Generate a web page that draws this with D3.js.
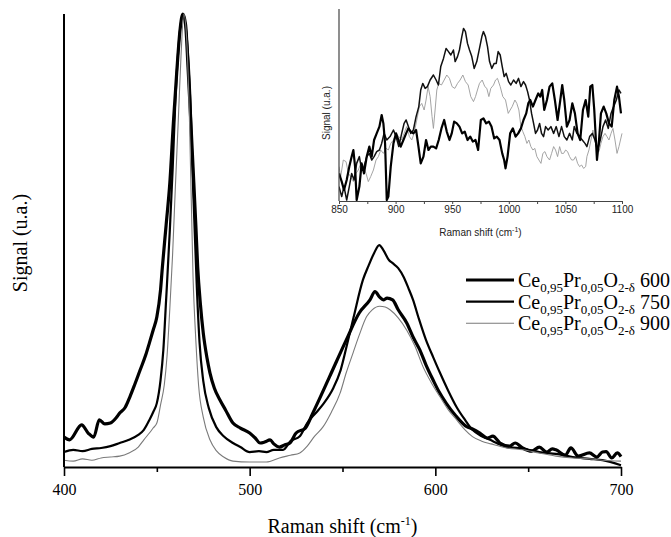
<!DOCTYPE html>
<html>
<head>
<meta charset="utf-8">
<script src="https://cdn.jsdelivr.net/npm/d3@7"></script>
<style>
  body { margin: 0; background: #fff; }
  svg { display: block; }
</style>
</head>
<body>
<div class="graph"></div>
<script>
const width = 671;
const height = 537;

// main spectra, Raman shift (cm-1) and normalised signal
const wn600 = [400, 403, 409.5, 413, 416, 419, 422, 425, 428, 430, 433, 435.5, 438, 441, 444, 446, 448, 450, 452, 453, 455, 457, 459, 460.7, 462.5, 464, 465.5, 466.8, 468, 469.5, 471, 472, 473.5, 475, 477, 478.6, 481, 484, 487, 491, 495, 500, 503, 505.6, 508, 511, 513, 516, 519, 521.7, 525, 530, 534, 543, 552, 559, 564.8, 567.5, 570, 572, 574, 577, 580, 584.6, 588, 591.7, 595, 598.8, 602, 606, 611, 616.9, 620, 624, 628, 631, 634.8, 640, 643, 647, 652, 656, 660, 663, 665, 670, 673, 677, 683, 687, 690, 692, 695, 698, 700];
const sig600 = [6.6, 6.0, 9.3, 7.5, 6.6, 10.4, 9.5, 9.7, 10.8, 11.9, 13.2, 15.5, 18.1, 21.4, 24.7, 27.4, 30.2, 33.1, 39.1, 44.2, 53.4, 62.7, 76.6, 87.0, 96.5, 100, 97.6, 88.3, 78.8, 66.2, 53.4, 44.2, 35.8, 29.6, 24.1, 20.8, 17.4, 14.8, 12.6, 9.7, 8.6, 7.5, 6.4, 5.3, 5.5, 6.0, 5.1, 4.4, 4.9, 5.3, 7.5, 8.6, 11.9, 19.9, 28.0, 34.0, 36.9, 38.7, 37.5, 36.9, 37.3, 36.9, 34.7, 31.8, 28.7, 25.8, 22.5, 19.2, 16.6, 14.0, 11.3, 8.9, 8.4, 7.5, 6.4, 6.8, 5.3, 4.6, 5.3, 4.2, 3.5, 4.4, 3.3, 4.0, 3.8, 2.6, 4.2, 2.4, 3.1, 2.2, 3.3, 3.4, 2.0, 3.1, 2.3];

const wn750 = [400, 405, 410, 415, 420, 425, 430, 435, 440, 443, 446, 448, 450, 452, 453.5, 455, 457, 458.5, 460, 462, 464, 466, 468, 469.5, 471.5, 473, 475, 478, 482, 486, 491, 495, 500, 505, 509, 513, 518, 522, 527, 531, 536, 540, 545, 549, 553, 556, 561, 564, 567, 569.8, 572, 575, 577, 580, 583, 585.5, 588, 591, 595, 599, 602.5, 607, 611.5, 616, 620, 625, 629.5, 634, 638.5, 645, 650, 656, 665, 674, 683, 690, 700];
const sig750 = [3.3, 3.8, 3.5, 4.0, 4.2, 4.6, 5.3, 6.0, 7.1, 8.2, 10.4, 12.1, 14.1, 19.2, 25.8, 36.9, 52.3, 65.6, 81.0, 94.3, 100, 95.4, 82.0, 62.0, 40.0, 27.5, 19.0, 13.0, 8.8, 6.8, 5.3, 4.4, 3.3, 3.5, 3.3, 3.8, 3.8, 5.7, 6.8, 9.7, 12.1, 14.1, 17.4, 21.4, 28.0, 33.1, 41.3, 44.4, 47.2, 49.0, 47.9, 45.7, 45.0, 43.9, 41.9, 39.5, 36.9, 32.9, 28.0, 24.1, 20.8, 16.8, 13.2, 10.4, 8.2, 6.8, 6.0, 5.1, 4.4, 4.2, 3.8, 3.3, 2.9, 2.2, 1.8, 1.5, 0.4];

const wn900 = [400, 405, 410, 415, 420, 425, 430, 435, 440, 443, 446, 448, 450, 452, 454, 455.5, 457, 458.5, 460, 461.5, 463, 464.5, 466, 467.5, 469.5, 471, 472.5, 475, 478.6, 482, 486, 491, 500, 509, 516, 522, 527, 531, 535, 539.6, 544, 548.7, 552, 555.7, 559, 563, 566, 570, 573, 575.6, 580, 584.6, 589, 593.4, 598, 602.5, 607, 611.5, 616, 620, 625, 630, 638.5, 647, 656, 665, 674, 683, 690, 700];
const sig900 = [1.5, 1.3, 1.8, 1.5, 2.0, 2.2, 2.4, 3.1, 4.4, 6.0, 7.5, 8.6, 9.7, 13.7, 18.1, 24.5, 35.0, 47.0, 62.0, 76.0, 90.5, 100, 95.0, 78.0, 42.0, 28.0, 18.0, 11.0, 6.0, 3.6, 2.2, 1.3, 1.1, 1.1, 2.0, 2.6, 3.1, 4.6, 6.8, 8.9, 12.1, 16.3, 20.8, 25.2, 29.1, 33.2, 34.7, 35.5, 35.3, 34.7, 32.9, 30.2, 26.7, 22.1, 18.5, 15.5, 12.6, 10.4, 8.2, 6.7, 5.7, 5.1, 4.2, 3.8, 3.1, 2.4, 2.0, 1.8, 1.5, 1.3];

// inset, 850-1100 cm-1
const inWn600 = [850, 852.4, 854.4, 856.8, 859.1, 861.2, 862.7, 864.2, 865.6, 868, 870, 872.1, 874.5, 876.8, 878.9, 881, 883.3, 885.7, 887.7, 889.2, 890.7, 892.2, 893.6, 895.7, 898.1, 900.4, 902.5, 904.5, 906.9, 909.3, 911.3, 913.4, 915.7, 918.1, 920.2, 922.2, 924.6, 926.9, 929, 931.1, 933.4, 935.8, 938.1, 940.5, 942.9, 945.2, 947.6, 949.6, 951.7, 954.1, 956.4, 958.8, 961.1, 963.5, 965.9, 968.2, 970.6, 972.9, 975.3, 977.6, 980, 982.4, 984.7, 987.1, 989.4, 991.8, 994.2, 995.9, 997.1, 998.9, 1001.2, 1003.6, 1006, 1008.3, 1010.7, 1013, 1015.4, 1017.2, 1018.9, 1021.3, 1023.6, 1026, 1027.8, 1029.5, 1031.3, 1033.7, 1036, 1038.4, 1040.7, 1043.1, 1045.5, 1047.2, 1049, 1051.3, 1053.7, 1056.1, 1058.4, 1060.8, 1063.1, 1065.5, 1067.9, 1070.2, 1072, 1073.8, 1075.5, 1077.9, 1079.7, 1081.4, 1083.8, 1086.1, 1088.5, 1090.9, 1093.2, 1095.6, 1097.3, 1099.1];
const inSig600 = [13.8, 9.7, 5.5, 10.5, 17.2, 22.2, 25.5, 17.2, 0.5, 7.2, 18.8, 13.8, 22.2, 27.2, 22.2, 30.5, 33.8, 37.2, 43, 38.8, 28.8, 0.5, 2.2, 17.2, 28.8, 33.8, 30.5, 27.2, 30.5, 33.8, 36.3, 34.7, 33.8, 35.5, 27.2, 18.8, 22.2, 30.5, 25.5, 27.2, 27.2, 26.3, 30.5, 36.3, 40.5, 34.7, 30.5, 33.8, 39.7, 38.8, 37.2, 33.8, 34.7, 30.5, 32.2, 29.7, 30.5, 25.5, 40.5, 41.3, 38.8, 39.7, 37.2, 31.3, 32.2, 30.5, 23.8, 20.5, 16.3, 22.2, 33.8, 36.3, 32.2, 33.8, 36.3, 40.5, 43.8, 48.8, 50.5, 47.2, 50.5, 53.8, 52.2, 55.5, 45.5, 50.5, 57.2, 58.8, 50.5, 40.5, 50.5, 58, 50.5, 37.2, 40.5, 48.8, 43.8, 33.8, 30.5, 45.5, 50.5, 42.2, 57.2, 58, 45.5, 20.5, 30.5, 43.8, 47.2, 43.8, 38.8, 37.2, 50.5, 57.2, 52.2, 43.8];

const inWn750 = [850, 852.4, 854.4, 856.8, 859.1, 861.2, 863.3, 865.6, 868, 870, 872.1, 874.5, 876.8, 878.9, 881, 883.3, 885.7, 887.7, 889.8, 892.2, 895.1, 898.1, 900.4, 902.8, 905.4, 907.5, 909.3, 911.3, 913.4, 915.7, 918.1, 920.5, 922.2, 924, 926.1, 928.1, 930.5, 933.4, 935.8, 937.8, 939.9, 942.3, 944.6, 946.7, 948.8, 951.1, 952.6, 954.7, 956.4, 958.5, 960, 961.7, 963.5, 965.3, 967.3, 969.4, 971.7, 974.1, 976.2, 977.6, 979.4, 981.2, 983, 985, 987.1, 988.9, 990.6, 992.4, 994.2, 995.9, 997.7, 999.8, 1001.8, 1004.2, 1006.5, 1008.6, 1010.7, 1013, 1014.8, 1016.6, 1018.3, 1020.1, 1021.9, 1023.6, 1025.4, 1027.2, 1028.9, 1030.7, 1032.5, 1034.8, 1037.2, 1039.6, 1041.9, 1044.3, 1046.6, 1049, 1051.3, 1053.7, 1056.1, 1057.8, 1060.2, 1062.5, 1064.9, 1067.3, 1069, 1071.4, 1073.8, 1076.1, 1078.5, 1080.8, 1083.2, 1085.5, 1087.9, 1090.3, 1092.6, 1095, 1097.3, 1099.1];
const inSig750 = [7.2, 2.2, 7.2, 0.5, 7.2, 13.8, 10.5, 18.8, 22.2, 15.5, 17.2, 22.2, 23.8, 20.5, 22.2, 24.7, 25.5, 28.8, 33.8, 30.5, 32.2, 35.5, 32.2, 27.2, 33.8, 38.8, 40.5, 37.2, 33.8, 35.5, 42.2, 47.2, 55.5, 58.8, 56.3, 57.2, 60.5, 63, 60.5, 58, 67.2, 71.3, 76.3, 74.7, 73, 75.5, 69.7, 72.2, 75.5, 82.2, 86.3, 84.7, 78.8, 75.5, 72.2, 66.3, 69.7, 76.3, 82.2, 84.7, 82.2, 77.2, 69.7, 66.3, 68.8, 68.8, 74.7, 73, 67.2, 62.2, 63.8, 59.7, 58, 60.5, 58.8, 61.3, 57.2, 59.7, 58, 54.7, 50.5, 43.8, 38.8, 33.8, 35.5, 38.8, 33.8, 32.2, 37.2, 35.5, 37.2, 33.8, 37.2, 32.2, 37.2, 32.2, 30.5, 33.8, 30.5, 37.2, 33.8, 32.2, 30.5, 28.8, 27.2, 32.2, 33.8, 30.5, 25.5, 30.5, 37.2, 40.5, 36.3, 43.8, 47.2, 50.5, 55.5, 53.8];

const inWn900 = [850, 851.5, 853.8, 856.2, 858.3, 860.3, 862.7, 865, 867.1, 869.2, 871.5, 873.9, 875.9, 878, 880.4, 882.7, 884.8, 886.8, 889.2, 891.6, 893.6, 895.7, 898.1, 900.4, 902.8, 905.4, 907.5, 909.8, 912.2, 914.3, 916.3, 918.7, 921, 923.1, 925.2, 926.9, 928.7, 930.5, 932.2, 933.4, 934.9, 936.4, 938.1, 940.5, 942.9, 945.2, 947.6, 949.9, 952.3, 954.7, 957, 959.4, 961.7, 964.1, 966.4, 968.8, 970.6, 972.3, 974.1, 976.5, 978.8, 980.6, 982.4, 984.1, 986.5, 988.3, 990, 992.4, 994.7, 997.1, 999.5, 1001.2, 1003, 1005.4, 1007.1, 1008.9, 1010.7, 1012.4, 1014.2, 1016, 1017.7, 1019.5, 1021.3, 1023, 1024.8, 1026.6, 1028.4, 1030.1, 1031.9, 1033.7, 1036, 1037.8, 1039.6, 1041.3, 1043.1, 1044.9, 1046.6, 1048.4, 1050.2, 1051.9, 1053.7, 1055.5, 1057.2, 1059, 1060.8, 1062.5, 1064.3, 1066.1, 1067.9, 1069, 1070.8, 1072.6, 1074.3, 1076.1, 1077.9, 1079.7, 1081.4, 1083.2, 1085, 1086.7, 1088.5, 1090.3, 1092, 1093.8, 1095.6, 1097.3, 1100];
const inSig900 = [17.2, 12.2, 20.5, 19.7, 13.8, 12.2, 9.7, 13.8, 15.5, 18.8, 17.2, 13.8, 9.7, 12.2, 15.5, 20.5, 22.2, 25.5, 23.8, 26.3, 25.5, 28.8, 30.5, 33.8, 32.2, 30.5, 33.8, 37.2, 32.2, 30.5, 33.8, 40.5, 47.2, 48.8, 45.5, 50.5, 57.2, 52.2, 42.2, 36.3, 45.5, 55.5, 58.8, 58, 60.5, 63, 61.3, 57.2, 56.3, 58.8, 60.5, 63, 59.7, 58, 52.2, 49.7, 52.2, 55.5, 58.8, 60.5, 57.2, 56.3, 52.2, 56.3, 58, 60.5, 61.3, 57.2, 52.2, 50.5, 43.8, 45.5, 47.2, 50.5, 48.8, 45.5, 37.2, 34.7, 32.2, 28.8, 30.5, 27.2, 25.5, 26.3, 22.2, 20.5, 18.8, 23.8, 24.7, 22.2, 20.5, 23.8, 27.2, 25.5, 22.2, 27.2, 23.8, 23.8, 25.5, 24.7, 22.2, 20.5, 20.5, 22.2, 18.8, 17.2, 18, 16.3, 17.2, 22.2, 25.5, 30.5, 35.5, 30.5, 25.5, 24.7, 28.8, 32.2, 33.8, 32.2, 30.5, 33.8, 36.3, 30.5, 23.8, 27.2, 33.8];

const legendTemps = ["600", "750", "900"];
const mainTicks = [400, 500, 600, 700];
const mainMinorTicks = [450, 550, 650];
const insetTicks = [850, 875, 900, 925, 950, 975, 1000, 1025, 1050, 1075, 1100];

const serif = "'Liberation Serif', 'Times New Roman', serif";
const sans = "'Liberation Sans', Arial, sans-serif";

const svg = d3
  .select(".graph")
  .append("svg")
  .attr("width", width)
  .attr("height", height);

// ---------- main chart ----------
const xScale = d3.scaleLinear().domain([400, 700]).range([64, 621]);
const yScale = d3.scaleLinear().domain([0, 100]).range([467, 14]);

const series = [
  { wn: wn600, sig: sig600, width: 3.2, color: "#000" },
  { wn: wn750, sig: sig750, width: 2.2, color: "#000" },
  { wn: wn900, sig: sig900, width: 1.1, color: "#7a7a7a" },
];

const mainLine = d3
  .line()
  .x((d) => xScale(d[0]))
  .y((d) => yScale(d[1]))
  .curve(d3.curveMonotoneX);

series.forEach((s) => {
  svg
    .append("path")
    .datum(s.wn.map((w, i) => [w, s.sig[i]]))
    .attr("d", mainLine)
    .attr("fill", "none")
    .attr("stroke", s.color)
    .attr("stroke-width", s.width)
    .attr("stroke-linejoin", "round");
});

svg
  .append("g")
  .attr("transform", "translate(0," + 467 + ")")
  .call(d3.axisBottom(xScale).tickValues(mainMinorTicks).tickSize(5).tickFormat(""))
  .call((g) => g.select(".domain").remove());

const xAxis = svg
  .append("g")
  .attr("transform", "translate(0," + 467 + ")")
  .call(d3.axisBottom(xScale).tickValues(mainTicks).tickSize(9).tickSizeOuter(0).tickPadding(8));
xAxis.select(".domain").attr("stroke-width", 2);
xAxis.selectAll("text").attr("font-family", serif).attr("font-size", 16).attr("fill", "#000");
svg.selectAll("g .tick line").attr("stroke-width", 1.6);

svg
  .append("line")
  .attr("x1", xScale(400))
  .attr("x2", xScale(400))
  .attr("y1", yScale(100))
  .attr("y2", 467)
  .attr("stroke", "#000")
  .attr("stroke-width", 2);

svg
  .append("text")
  .attr("x", (xScale(400) + xScale(700)) / 2)
  .attr("y", 533)
  .attr("text-anchor", "middle")
  .attr("font-family", serif)
  .attr("font-size", 20)
  .html("Raman shift (cm<tspan dy='-8' font-size='12'>-1</tspan><tspan dy='8'>)</tspan>");

svg
  .append("text")
  .attr("transform", "translate(27,243) rotate(-90)")
  .attr("text-anchor", "middle")
  .attr("font-family", serif)
  .attr("font-size", 20)
  .text("Signal (u.a.)");

// legend
const legend = svg.append("g").attr("id", "legend");
legendTemps.forEach((t, i) => {
  const y = 280 + i * 21.6;
  legend
    .append("line")
    .attr("x1", 466)
    .attr("x2", 514)
    .attr("y1", y)
    .attr("y2", y)
    .attr("stroke", series[i].color)
    .attr("stroke-width", series[i].width);
  legend
    .append("text")
    .attr("x", 518)
    .attr("y", y + 7)
    .attr("font-family", serif)
    .attr("font-size", 20)
    .html(
      "Ce<tspan dy='5' font-size='13'>0,95</tspan><tspan dy='-5'>Pr</tspan>" +
        "<tspan dy='5' font-size='13'>0,05</tspan><tspan dy='-5'>O</tspan>" +
        "<tspan dy='5' font-size='13'>2-δ</tspan><tspan dy='-5'> " + t + "</tspan>"
    );
});

// ---------- inset ----------
const ix = d3.scaleLinear().domain([850, 1100]).range([339, 622]);
const iy = d3.scaleLinear().domain([0, 96]).range([201, 9]);

svg
  .append("clipPath")
  .attr("id", "insetClip")
  .append("rect")
  .attr("x", 339)
  .attr("y", 9)
  .attr("width", 284)
  .attr("height", 192);

const insetSeries = [
  { wn: inWn600, sig: inSig600, width: 2.2, color: "#000" },
  { wn: inWn750, sig: inSig750, width: 1.5, color: "#111" },
  { wn: inWn900, sig: inSig900, width: 0.9, color: "#9a9a9a" },
];

const insetLine = d3
  .line()
  .x((d) => ix(d[0]))
  .y((d) => iy(d[1]));

insetSeries.slice().reverse().forEach((s) => {
  svg
    .append("path")
    .datum(s.wn.map((w, i) => [w, s.sig[i]]))
    .attr("d", insetLine)
    .attr("clip-path", "url(#insetClip)")
    .attr("fill", "none")
    .attr("stroke", s.color)
    .attr("stroke-width", s.width)
    .attr("stroke-linejoin", "round");
});

const insetAxis = svg
  .append("g")
  .attr("transform", "translate(0,201)")
  .call(
    d3
      .axisBottom(ix)
      .tickValues(insetTicks)
      .tickSize(3)
      .tickSizeOuter(0)
      .tickPadding(2)
      .tickFormat((d) => (d % 50 === 0 ? d : ""))
  );
insetAxis.select(".domain").attr("stroke", "#444");
insetAxis.selectAll("line").attr("stroke", "#444").attr("stroke-width", 1);
insetAxis.selectAll("text").attr("font-family", sans).attr("font-size", 10).attr("fill", "#222");

svg
  .append("line")
  .attr("x1", 339)
  .attr("x2", 339)
  .attr("y1", 9)
  .attr("y2", 201)
  .attr("stroke", "#444")
  .attr("stroke-width", 1.2);

svg
  .append("text")
  .attr("x", (ix(850) + ix(1100)) / 2)
  .attr("y", 236)
  .attr("text-anchor", "middle")
  .attr("font-family", sans)
  .attr("font-size", 10)
  .attr("fill", "#222")
  .html("Raman shift (cm<tspan dy='-4' font-size='7'>-1</tspan><tspan dy='4'>)</tspan>");

svg
  .append("text")
  .attr("transform", "translate(330,113) rotate(-90)")
  .attr("text-anchor", "middle")
  .attr("font-family", sans)
  .attr("font-size", 10)
  .attr("fill", "#222")
  .text("Signal (u.a.)");
</script>
</body>
</html>
